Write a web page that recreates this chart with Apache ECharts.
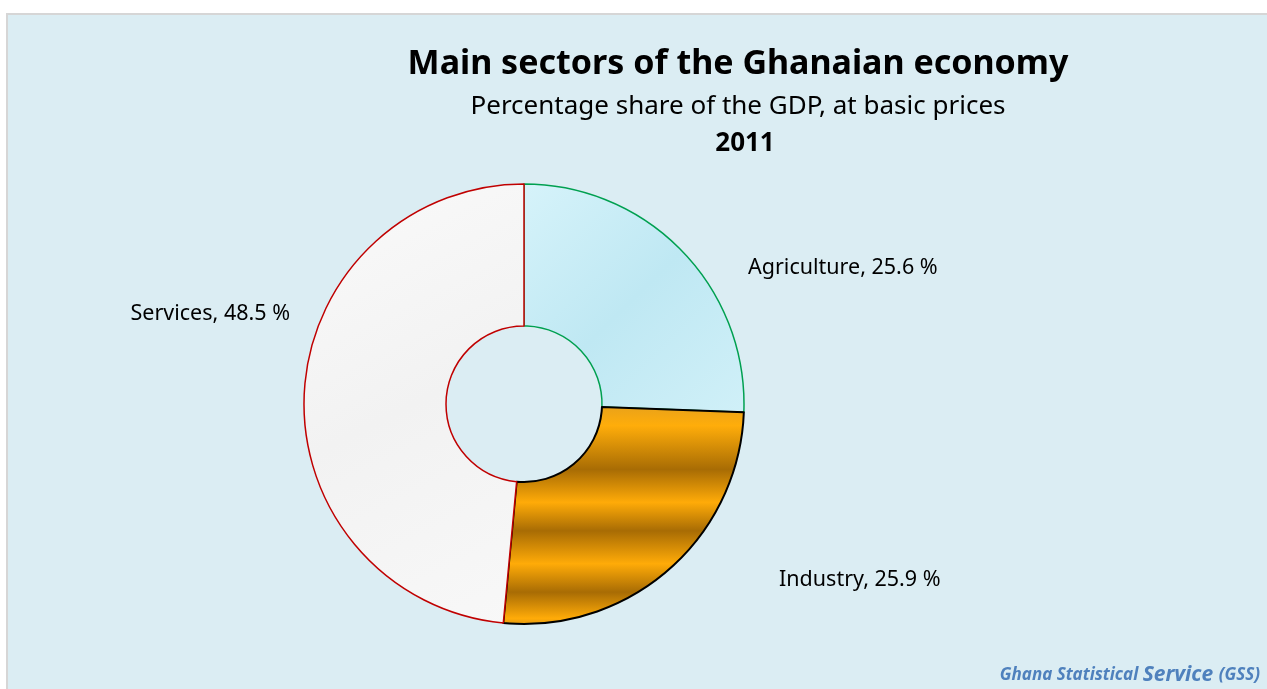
<!DOCTYPE html>
<html>
<head>
<meta charset="utf-8">
<script src="https://cdn.jsdelivr.net/npm/echarts@6/dist/echarts.min.js"></script>
<style>
  html, body { margin: 0; padding: 0; background: #ffffff; }
  #main { width: 1267px; height: 689px; }
</style>
</head>
<body>
<div id="main"></div>
<script>
// sectors, share of GDP in %
var sectors = ['Agriculture', 'Industry', 'Services'];
var shares = [25.6, 25.9, 48.5];
var edgeColors = ['#00a050', '#000000', '#c00000'];

var titleText = 'Main sectors of the Ghanaian economy';
var subText = 'Percentage share of the GDP, at basic prices';
var yearText = '2011';

var FONT = '"Noto Sans", sans-serif';

// fills: water-drop blue, gold stripes, speckled white
var fills = [
  new echarts.graphic.LinearGradient(0, 0, 1, 1, [
    { offset: 0, color: '#d6f3fa' },
    { offset: 0.5, color: '#bfe8f3' },
    { offset: 1, color: '#d0f0f8' }
  ]),
  new echarts.graphic.LinearGradient(0, 0, 0, 1, [
    { offset: 0, color: '#e9a21a' },
    { offset: 0.09, color: '#ffad0a' },
    { offset: 0.29, color: '#a86c04' },
    { offset: 0.44, color: '#ffab08' },
    { offset: 0.57, color: '#a86c04' },
    { offset: 0.72, color: '#ffab08' },
    { offset: 0.85, color: '#a86c04' },
    { offset: 0.97, color: '#ffab08' },
    { offset: 1, color: '#e09810' }
  ]),
  new echarts.graphic.LinearGradient(0, 0, 1, 1, [
    { offset: 0, color: '#fafafa' },
    { offset: 0.5, color: '#f2f2f2' },
    { offset: 1, color: '#f8f8f8' }
  ])
];

// where the data labels sit (left/right anchor, middle)
var labelSpots = [
  { x: 748, y: 268, align: 'left' },
  { x: 779, y: 580, align: 'left' },
  { x: 290, y: 314, align: 'right' }
];

var chart = echarts.init(document.getElementById('main'));

var pieData = sectors.map(function (name, i) {
  return {
    name: name,
    value: shares[i],
    itemStyle: {
      color: fills[i],
      borderColor: edgeColors[i],
      borderWidth: i === 1 ? 2 : 1.5
    }
  };
});

var option = {
  backgroundColor: '#ffffff',
  animation: false,
  title: [
    {
      text: titleText,
      left: 733, top: 42, textAlign: 'center',
      textStyle: { fontFamily: FONT, fontWeight: 'bold', fontSize: 34, color: '#000' }
    },
    {
      text: subText,
      left: 733, top: 89, textAlign: 'center',
      textStyle: { fontFamily: FONT, fontWeight: 'normal', fontSize: 26, color: '#000' }
    },
    {
      text: yearText,
      left: 740, top: 126, textAlign: 'center',
      textStyle: { fontFamily: FONT, fontWeight: 'bold', fontSize: 26, color: '#000' }
    }
  ],
  graphic: [
    {
      type: 'rect', z: -10, silent: true,
      shape: { x: 7, y: 14, width: 1270, height: 690 },
      style: { fill: '#dbedf3', stroke: '#d6d6d6', lineWidth: 2 }
    },
    {
      type: 'text', right: 7, bottom: 3,
      style: {
        text: '{a|Ghana Statistical }{b|Service }{a|(GSS)}',
        rich: {
          a: { fontFamily: FONT, fontStyle: 'italic', fontWeight: 'bold', fontSize: 17, fill: '#4f81bd' },
          b: { fontFamily: FONT, fontStyle: 'italic', fontWeight: 'bold', fontSize: 21, fill: '#4f81bd' }
        }
      }
    }
  ],
  series: [
    {
      type: 'pie',
      center: [524, 404],
      radius: [78, 220],
      startAngle: 90,
      clockwise: true,
      data: pieData,
      label: {
        show: true,
        formatter: function (p) { return p.name + ', ' + p.value.toFixed(1) + ' %'; },
        fontFamily: FONT,
        fontSize: 21.5,
        color: '#000'
      },
      labelLine: { show: false },
      labelLayout: function (p) {
        var s = labelSpots[p.dataIndex];
        return { x: s.x, y: s.y, align: s.align, verticalAlign: 'middle' };
      },
      emphasis: { disabled: true }
    }
  ]
};

chart.setOption(option);
</script>
</body>
</html>
